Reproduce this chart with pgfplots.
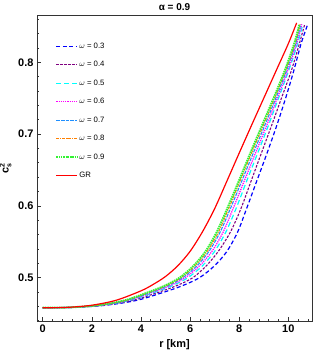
\documentclass[border=0pt]{standalone}
\usepackage{fontspec}
\setmainfont{Liberation Sans}
\usepackage{pgfplots}
\pgfplotsset{compat=1.18}
\definecolor{cblue}{rgb}{0,0,1}
\definecolor{cpurple}{rgb}{0.5,0,0.5}
\definecolor{ccyan}{rgb}{0,1,1}
\definecolor{cmagenta}{rgb}{1,0,1}
\definecolor{cdodger}{rgb}{0.12,0.56,1}
\definecolor{corange}{rgb}{1,0.5,0}
\definecolor{cgreen}{rgb}{0.2,0.95,0.2}
\definecolor{cred}{rgb}{1,0,0}
\begin{document}
\begin{tikzpicture}
\path[use as bounding box] (-37bp,-36bp) rectangle (276bp,321bp);
\begin{axis}[
  at={(0,0)}, anchor=south west,
  scale only axis, width=275bp, height=306bp,
  xmin=-0.232, xmax=10.965, ymin=0.4395, ymax=0.866,
  axis line style={black!80, line width=0.8pt},
  xtick={0,2,4,6,8,10}, xticklabels={0,2,4,6,8,10},
  ytick={0.5,0.6,0.7,0.8}, yticklabels={0.5,0.6,0.7,0.8},
  minor xtick={0.4,0.8,1.2,1.6,2.4,2.8,3.2,3.6,4.4,4.8,5.2,5.6,6.4,6.8,7.2,7.6,8.4,8.8,9.2,9.6,10.4,10.8},
  minor ytick={0.44,0.46,0.48,0.52,0.54,0.56,0.58,0.62,0.64,0.66,0.68,0.72,0.74,0.76,0.78,0.82,0.84,0.86},
  xtick pos=left, ytick pos=left, tick align=inside,
  major tick length=4bp, minor tick length=2bp,
  tick style={black!80, line width=0.6pt},
  tick label style={font=\fontsize{11}{12}\selectfont\bfseries},
  title={\fontsize{10}{12}\selectfont\bfseries α = 0.9},
  title style={yshift=-5bp},
  xlabel={\fontsize{11}{12}\selectfont\bfseries r [km]},
  ylabel={\fontsize{11}{12}\selectfont\bfseries c$^{\textbf{\scriptsize 2}}_{\textbf{\scriptsize s}}$},
  legend style={draw=none, fill=none, at={(0.055,0.92)}, anchor=north west,
    font=\fontsize{7.8}{9}\selectfont, row sep=9.6bp,
    nodes={inner sep=1bp}},
  legend cell align=left,
  legend image code/.code={\draw[#1, sharp plot] plot coordinates {(0bp,0bp) (10.5bp,0bp) (21bp,0bp)};},
]
\addplot[draw=cblue, line width=1.2pt, dash pattern=on 4bp off 2.5bp, smooth] coordinates {
(0,0.458) (1.285,0.4585) (2.57,0.4615) (3.855,0.4685) (5.14,0.482) (5.78,0.490) (6.39,0.500) (6.98,0.516) (7.49,0.536) (7.93,0.563) (8.30,0.596) (8.72,0.635) (9.14,0.674) (9.53,0.712) (9.89,0.750) (10.22,0.788) (10.52,0.826) (10.77,0.851)};
\addlegendentry{$\omega$ = 0.3}
\addplot[draw=cpurple, line width=1.1pt, dash pattern=on 2.5bp off 1.5bp, smooth] coordinates {
(0,0.458) (1.231,0.4585) (2.462,0.4615) (3.693,0.4685) (4.924,0.482) (5.54,0.490) (6.12,0.500) (6.68,0.517) (7.18,0.538) (7.65,0.564) (8.07,0.596) (8.49,0.635) (8.91,0.674) (9.32,0.712) (9.72,0.750) (10.12,0.788) (10.45,0.826) (10.66,0.852)};
\addlegendentry{$\omega$ = 0.4}
\addplot[draw=ccyan, line width=1.2pt, dash pattern=on 5bp off 3bp, smooth] coordinates {
(0,0.458) (1.191,0.4585) (2.382,0.4615) (3.573,0.4685) (4.764,0.482) (5.36,0.490) (5.92,0.500) (6.49,0.516) (6.99,0.536) (7.45,0.563) (7.87,0.596) (8.31,0.635) (8.76,0.674) (9.19,0.712) (9.60,0.750) (10.01,0.788) (10.38,0.826) (10.59,0.853)};
\addlegendentry{$\omega$ = 0.5}
\addplot[draw=cmagenta, line width=1.3pt, dash pattern=on 1.2bp off 1bp, smooth] coordinates {
(0,0.458) (1.169,0.4585) (2.338,0.4615) (3.507,0.4685) (4.676,0.482) (5.26,0.490) (5.81,0.500) (6.37,0.516) (6.88,0.536) (7.34,0.563) (7.75,0.596) (8.21,0.635) (8.67,0.674) (9.12,0.712) (9.55,0.750) (9.97,0.788) (10.34,0.826) (10.55,0.853)};
\addlegendentry{$\omega$ = 0.6}
\addplot[draw=cdodger, line width=1.1pt, dash pattern=on 3.5bp off 1.2bp, smooth] coordinates {
(0,0.458) (1.149,0.4585) (2.298,0.4615) (3.447,0.4685) (4.596,0.482) (5.17,0.490) (5.71,0.500) (6.27,0.516) (6.76,0.536) (7.22,0.563) (7.64,0.596) (8.11,0.635) (8.58,0.674) (9.04,0.712) (9.49,0.750) (9.92,0.788) (10.30,0.826) (10.51,0.853)};
\addlegendentry{$\omega$ = 0.7}
\addplot[draw=corange, line width=1pt, dash pattern=on 3bp off 1bp on 1bp off 1bp, smooth] coordinates {
(0,0.458) (1.135,0.4585) (2.27,0.4615) (3.405,0.4685) (4.54,0.482) (5.11,0.490) (5.64,0.500) (6.19,0.516) (6.69,0.536) (7.15,0.563) (7.57,0.596) (8.04,0.635) (8.51,0.674) (8.98,0.712) (9.44,0.750) (9.88,0.788) (10.27,0.826) (10.48,0.853)};
\addlegendentry{$\omega$ = 0.8}
\addplot[draw=cgreen, line width=2pt, dash pattern=on 1.5bp off 0.8bp, smooth] coordinates {
(0,0.458) (1.122,0.4585) (2.244,0.4615) (3.366,0.4685) (4.488,0.482) (5.05,0.490) (5.58,0.500) (6.13,0.516) (6.62,0.536) (7.08,0.563) (7.51,0.596) (7.99,0.635) (8.46,0.674) (8.93,0.712) (9.40,0.750) (9.85,0.788) (10.24,0.826) (10.45,0.853)};
\addlegendentry{$\omega$ = 0.9}
\addplot[draw=cred, line width=1.2pt, smooth] coordinates {
(0,0.458) (1,0.4585) (2,0.4615) (3,0.4685) (4,0.4815) (4.5,0.4905) (5,0.5015) (5.5,0.5165) (6,0.5365) (6.5,0.5635) (7,0.5960) (7.5,0.6345) (8,0.6735) (8.5,0.7120) (9,0.7500) (9.5,0.7880) (10,0.8260) (10.34,0.855)};
\addlegendentry{GR}
\end{axis}
\end{tikzpicture}
\end{document}
